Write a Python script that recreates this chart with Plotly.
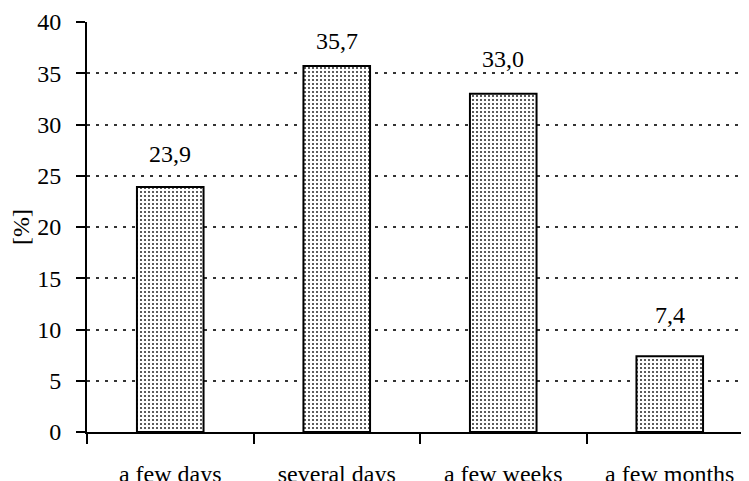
import plotly.graph_objects as go

categories = ["a few days", "several days", "a few weeks", "a few months"]
values = [23.9, 35.7, 33.0, 7.4]
labels = [f"{v:.1f}".replace(".", ",") for v in values]
y_ticks = [0, 5, 10, 15, 20, 25, 30, 35, 40]

# style: vertical pixel offsets of the value labels above each bar
label_offsets = [33, 25, 35, 41]

FONT = "'Liberation Serif', 'Times New Roman', 'DejaVu Serif', serif"
FS = 24

fig = go.Figure()
fig.add_trace(go.Bar(
    x=categories, y=values, width=0.4,
    marker=dict(color="white",
                line=dict(color="black", width=2),
                pattern=dict(shape=".", size=4, solidity=0.22,
                             fgcolor="#333", bgcolor="white", fillmode="replace")),
    showlegend=False,
))
for c, v, t, off in zip(categories, values, labels, label_offsets):
    fig.add_annotation(x=c, y=v, text=t, showarrow=False, yshift=off,
                       font=dict(family=FONT, size=FS, color="black"))

fig.update_layout(
    width=749, height=481,
    margin=dict(l=79, r=4, t=14, b=57, autoexpand=False),
    plot_bgcolor="white", paper_bgcolor="white",
    font=dict(family=FONT, size=FS, color="black"),
    bargap=0.6,
)
fig.update_xaxes(
    range=[-0.5, 3.5], tickson="boundaries", ticks="outside", ticklen=10,
    tickwidth=2, tickcolor="black", showline=True, linecolor="black", linewidth=2,
    showgrid=False, ticklabelstandoff=19, tickfont=dict(family=FONT, size=FS),
    automargin=False,
)
fig.update_yaxes(
    range=[0, 40], tickvals=y_ticks, ticks="outside", ticklen=9, tickwidth=2,
    tickcolor="black", showline=True, linecolor="black", linewidth=2,
    showgrid=True, gridcolor="#333", gridwidth=1.5, griddash="3px,6px",
    zeroline=False, ticklabelstandoff=10, automargin=False,
    title=dict(text="[%]", font=dict(family=FONT, size=FS), standoff=10),
    tickfont=dict(family=FONT, size=FS),
)
fig.write_html("out.html")
